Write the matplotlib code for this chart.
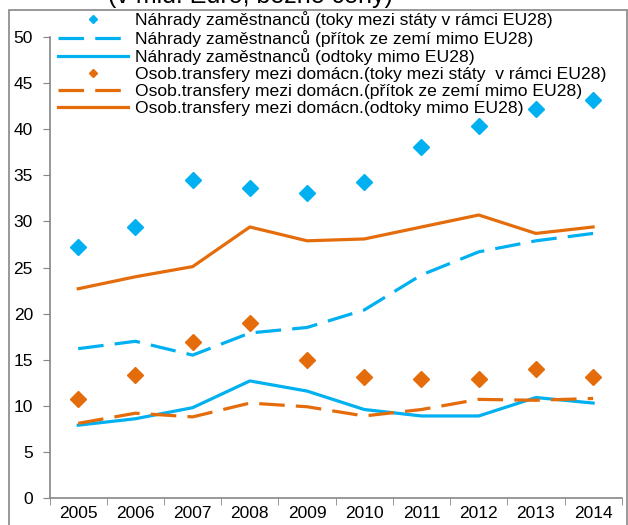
import matplotlib.pyplot as plt
from matplotlib.patches import Rectangle

plt.rcParams['font.family'] = ['Liberation Sans', 'DejaVu Sans']

years = ['2005', '2006', '2007', '2008', '2009', '2010', '2011', '2012', '2013', '2014']

# Náhrady zaměstnanců
comp_intra = [27.2, 29.4, 34.5, 33.6, 33.1, 34.3, 38.1, 40.4, 42.2, 43.2]
comp_in_extra = [16.2, 17.0, 15.5, 17.9, 18.5, 20.4, 24.2, 26.7, 27.9, 28.7]
comp_out_extra = [7.9, 8.6, 9.8, 12.7, 11.6, 9.6, 8.9, 8.9, 10.9, 10.3]

# Osobní transfery mezi domácnostmi
pt_intra = [10.7, 13.3, 16.9, 19.0, 15.0, 13.1, 12.9, 12.9, 14.0, 13.1]
pt_in_extra = [8.1, 9.2, 8.8, 10.3, 9.9, 8.9, 9.6, 10.7, 10.6, 10.8]
pt_out_extra = [22.7, 24.0, 25.1, 29.4, 27.9, 28.1, 29.4, 30.7, 28.7, 29.4]

labels = [
    'Náhrady zaměstnanců (toky mezi státy v rámci EU28)',
    'Náhrady zaměstnanců (přítok ze zemí mimo EU28)',
    'Náhrady zaměstnanců (odtoky mimo EU28)',
    'Osob.transfery mezi domácn.(toky mezi státy  v rámci EU28)',
    'Osob.transfery mezi domácn.(přítok ze zemí mimo EU28)',
    'Osob.transfery mezi domácn.(odtoky mimo EU28)',
]

BLUE = '#00B0F0'
ORANGE = '#E46C0A'
LW = 2.3
DASH = (8, 3.5)

fig = plt.figure(figsize=(6.28, 5.25), dpi=100)
ax = fig.add_axes([0.079, 0.0514, 0.911, 0.878])

x = range(len(years))
ax.plot(x, comp_intra, linestyle='none', marker='D', markersize=8,
        color=BLUE, label=labels[0])
ax.plot(x, comp_in_extra, color=BLUE, lw=LW, dashes=DASH, label=labels[1])
ax.plot(x, comp_out_extra, color=BLUE, lw=LW, label=labels[2])
ax.plot(x, pt_intra, linestyle='none', marker='D', markersize=8,
        color=ORANGE, label=labels[3])
ax.plot(x, pt_in_extra, color=ORANGE, lw=LW, dashes=DASH, label=labels[4])
ax.plot(x, pt_out_extra, color=ORANGE, lw=LW, label=labels[5])

ax.set_xlim(-0.5, len(years) - 0.5)
ax.set_ylim(0, 50)
ax.set_yticks(range(0, 51, 5))
ax.set_xticks(x)
ax.set_xticklabels(years)
ax.set_xticks([i - 0.5 for i in range(len(years) + 1)], minor=True)
ax.tick_params(axis='x', which='major', length=0, labelsize=12.5, pad=6)
ax.tick_params(axis='x', which='minor', length=5, color='#868686', direction='out')
ax.tick_params(axis='y', length=5, color='#868686', labelsize=12.5, pad=7)

for side in ('top', 'right'):
    ax.spines[side].set_visible(False)
for side in ('left', 'bottom'):
    ax.spines[side].set_color('#868686')
    ax.spines[side].set_linewidth(1.2)

leg = ax.legend(loc='upper left', bbox_to_anchor=(0.082, 0.992),
                bbox_transform=fig.transFigure, frameon=False,
                fontsize=12.6, handlelength=3.95, handletextpad=0.4,
                labelspacing=0.09, borderaxespad=0, markerscale=0.45,
                numpoints=1)

# heading sits mostly above the top edge
fig.text(0.398, 1 - 8 / 525, '(v mld. Euro, běžné ceny)', fontsize=18,
         ha='center', va='bottom')

fig.patches.append(Rectangle((0.014, -0.05), 0.985, 1.031,
                             transform=fig.transFigure, fill=False,
                             edgecolor='#868686', linewidth=1.2))

fig.savefig('out.png', dpi=100)
